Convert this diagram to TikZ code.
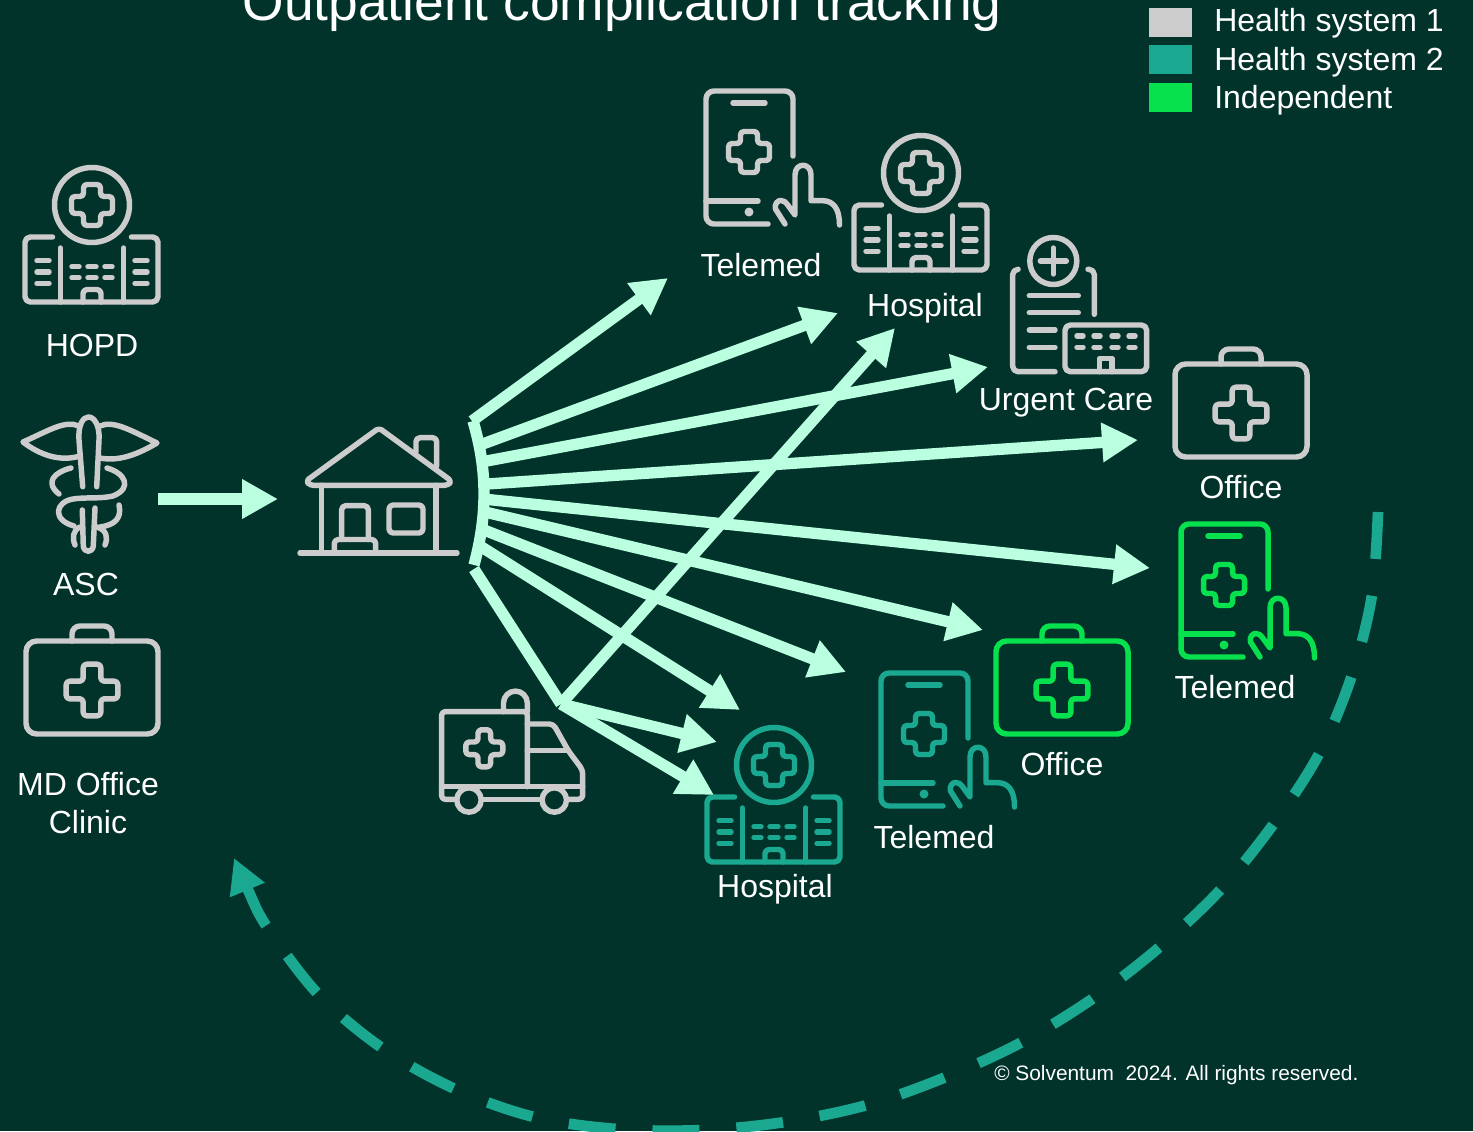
\documentclass[tikz,border=0pt]{standalone}
\usepackage{fontspec}
\setmainfont{Liberation Sans}
\usetikzlibrary{arrows.meta}
\definecolor{bgc}{HTML}{01332B}
\definecolor{gry}{HTML}{CCCCCC}
\definecolor{tealc}{HTML}{1AA890}
\definecolor{grn}{HTML}{06E14D}
\definecolor{mint}{HTML}{B9FFE0}
\newcommand{\medcross}[4]{%
  \draw[iconline,rounded corners=2.6pt] (#1,{#2-#3}) -- ({#1+#4},{#2-#3}) -- ({#1+#4},{#2-#4}) -- ({#1+#3},{#2-#4}) -- ({#1+#3},{#2+#4}) -- ({#1+#4},{#2+#4}) -- ({#1+#4},{#2+#3}) -- ({#1-#4},{#2+#3}) -- ({#1-#4},{#2+#4}) -- ({#1-#3},{#2+#4}) -- ({#1-#3},{#2-#4}) -- ({#1-#4},{#2-#4}) -- ({#1-#4},{#2-#3}) -- cycle;}
\tikzset{
  iconline/.style={line width=4.1pt,line cap=round,line join=round},
  lbl/.style={text=white,font=\fontsize{24}{28.5}\selectfont,anchor=base,inner sep=0pt,align=center},
  flow/.style={draw=mint,line width=8.5pt,-{Triangle[length=27pt,width=28pt]}},
  flowplain/.style={draw=mint,line width=8.5pt},
  swatch/.style={draw=none,minimum width=32.25pt,minimum height=21.75pt,inner sep=0pt,anchor=north west},
  hospitalicon/.pic={
    \draw[iconline] (0,39) circle[radius=37.5];
    \medcross{0}{39}{20.5}{8.5}
    \draw[iconline,rounded corners=4pt] (-39.5,71) -- (-67,71) -- (-67,136) -- (66,136) -- (66,71) -- (39.5,71);
    \draw[iconline] (-31.7,82) -- (-31.7,136) (31.7,82) -- (31.7,136);
    \foreach \yy in {94.7,106,117.3}{\draw[iconline] (-55,\yy) -- (-43,\yy) (43,\yy) -- (55,\yy);}
    \foreach \yy in {100.7,111.7}{\draw[iconline] (-20,\yy) -- (-13,\yy) (-4,\yy) -- (4,\yy) (13,\yy) -- (20,\yy);}
    \draw[iconline,rounded corners=3pt] (-9,136) -- (-9,123.5) -- (9,123.5) -- (9,136);
  },
  phoneicon/.pic={
    \draw[iconline,rounded corners=6pt] (90,68) -- (90,3) -- (3,3) -- (3,136) -- (65,136);
    \draw[iconline] (30,15) -- (62,15) (3,113) -- (55,113);
    \fill (46,124) circle[radius=4.5];
    \medcross{46}{64}{20.5}{8.5}
    \draw[iconline] (82,136) -- (72.5,121) .. controls (71,116) and (75,112) .. (78,112.5) .. controls (81,113) and (83,114) .. (84,116) -- (92,127) -- (92,87) .. controls (92,74) and (108,74) .. (108,87) -- (108,112.7) -- (120,112.7) .. controls (130,113) and (136.5,120) .. (136.5,137);
  },
  kiticon/.pic={
    \draw[iconline,rounded corners=8pt] (-66,19) rectangle (66,112);
    \draw[iconline,rounded corners=6pt] (-20,19) -- (-20,4) -- (20,4) -- (20,19);
    \medcross{0}{68}{25.8}{8.8}
  }
}
\begin{document}
\begin{tikzpicture}[x=0.75pt,y=-0.75pt]
\useasboundingbox (0,0) rectangle (1473,1131);
\fill[bgc] (0,0) rectangle (1473,1131);
\clip (0,0) rectangle (1473,1131);

% title and legend
\node[text=white,font=\fontsize{40}{48}\selectfont,anchor=base,inner sep=0pt] (title) at (622,21) {Outpatient complication tracking};
\node[swatch,fill=gry] (sw1) at (1149,8) {};
\node[swatch,fill=tealc] (sw2) at (1149,45) {};
\node[swatch,fill=grn] (sw3) at (1149,83) {};
\node[lbl,anchor=base west] (lg1) at (1214,32) {Health system 1};
\node[lbl,anchor=base west] (lg2) at (1214,70.5) {Health system 2};
\node[lbl,anchor=base west] (lg3) at (1214,108.5) {Independent};

% left column
\pic[color=gry] (hopd) at (92,166) {hospitalicon};
\node[lbl] (hopdL) at (92,356) {HOPD};
\begin{scope}[color=gry]
\draw[iconline] (82.7,486.7) -- (79,440) .. controls (78,425) and (83,417) .. (88.5,417) .. controls (94,417) and (100,425) .. (99,440) -- (96.7,486.7);
\draw[iconline] (79,426) .. controls (65,420) and (50,430) .. (23,442) .. controls (40,455) and (60,462) .. (80,456);
\draw[iconline] (100,426) .. controls (113,420) and (130,430) .. (157,443) .. controls (140,453) and (120,462) .. (100,458);
\draw[iconline] (71,468) .. controls (55,472) and (44,482) .. (59,494);
\draw[iconline] (107,468) .. controls (125,473) and (133,488) .. (113,496) .. controls (100,499) and (85,497) .. (73,499) .. controls (55,502) and (52,520) .. (74,526);
\draw[iconline] (119,505) .. controls (122,518) and (115,525) .. (100,527);
\draw[iconline] (82.3,510) -- (83.3,546) .. controls (84,553) and (92.5,553) .. (93.3,546) -- (95,508);
\draw[iconline] (75,545) .. controls (72,538) and (73,530) .. (80,527);
\draw[iconline] (105,545) .. controls (108,538) and (107,530) .. (97,527);
\end{scope}
\node[lbl] (ascL) at (86,595) {ASC};
\pic[color=gry] (md) at (92,622) {kiticon};
\node[lbl] (mdL) at (88,833) {MD Office\\Clinic};

% house
\begin{scope}[color=gry]
\draw[iconline,rounded corners=2.5pt] (310,485.3) -- (306,481) -- (379,428) -- (451.5,481) -- (448,485.3) -- cycle;
\draw[iconline,rounded corners=3pt] (416,451.7) -- (416,437.7) -- (436.7,437.7) -- (436.7,466);
\draw[iconline] (321.7,485.3) -- (321.7,553) (436,485.3) -- (436,553) (300,553) -- (457,553);
\draw[iconline,rounded corners=3pt] (341.7,539.5) -- (341.7,505.7) -- (368.3,505.7) -- (368.3,539.5);
\draw[iconline,rounded corners=3pt] (334.3,553) -- (334.3,539.5) -- (375.7,539.5) -- (375.7,553);
\draw[iconline,rounded corners=3pt] (389,505) rectangle (423,533);
\end{scope}

% ambulance
\begin{scope}[color=gry]
\draw[iconline,rounded corners=2.5pt] (527.3,786.7) -- (527.3,711.7) -- (441.7,711.7) -- (441.7,786.7);
\draw[iconline] (441.7,786.7) -- (582.7,786.7);
\draw[iconline] (503.5,711.7) -- (503.5,703) arc[start angle=180,end angle=360,radius=11.9] -- (527.3,711.7);
\draw[iconline,rounded corners=2.5pt] (455,799.3) -- (441.7,799.3) -- (441.7,786.7);
\draw[iconline] (483.3,799.3) -- (541.7,799.3);
\draw[iconline,rounded corners=3pt] (568.3,799.3) -- (582.7,799.3) -- (582.7,770) -- (568.3,750.7) -- (553.3,724) -- (527.3,724);
\draw[iconline] (527.3,750.7) -- (568.3,750.7);
\draw[iconline] (469,800) circle[radius=12.2] (554.3,800) circle[radius=12.2];
\medcross{484.3}{748.3}{18.5}{6.3}
\end{scope}

% destination icons
\pic[color=gry] (tm1) at (703,88) {phoneicon};
\node[lbl] (tm1L) at (761,276) {Telemed};
\pic[color=gry] (hosp1) at (921,134) {hospitalicon};
\node[lbl] (hosp1L) at (925,316) {Hospital};
\begin{scope}[color=gry]
\draw[iconline] (1053.3,261) circle[radius=23.5];
\draw[iconline] (1040.3,261) -- (1066.3,261) (1053.3,248) -- (1053.3,274);
\draw[iconline,rounded corners=4pt] (1018,269.3) -- (1012.7,269.3) -- (1012.7,371.7) -- (1055,371.7);
\draw[iconline,rounded corners=4pt] (1088,269.3) -- (1094.3,269.3) -- (1094.3,314.3);
\draw[iconline] (1029.3,295.7) -- (1078.3,295.7) (1029.3,312.7) -- (1078.3,312.7) (1029.3,330) -- (1055,330) (1029.3,347.3) -- (1055,347.3);
\draw[iconline,rounded corners=4pt] (1065,325) rectangle (1146.7,371.7);
\foreach \yy in {336,347.3}{\draw[iconline] (1077,\yy) -- (1083,\yy) (1094,\yy) -- (1100,\yy) (1112,\yy) -- (1118,\yy) (1129,\yy) -- (1135,\yy);}
\draw[iconline] (1099.5,371.7) -- (1099.5,358.3) -- (1112,358.3) -- (1112,371.7);
\end{scope}
\node[lbl] (ucL) at (1066,410) {Urgent Care};
\pic[color=gry] (of1) at (1241,345) {kiticon};
\node[lbl] (of1L) at (1241,498) {Office};
\pic[color=grn] (tm2) at (1178,521) {phoneicon};
\node[lbl] (tm2L) at (1235,698) {Telemed};
\pic[color=grn] (of2) at (1062,622) {kiticon};
\node[lbl] (of2L) at (1062,775) {Office};
\pic[color=tealc] (tm3) at (878,670) {phoneicon};
\node[lbl] (tm3L) at (934,848) {Telemed};
\pic[color=tealc] (hosp2) at (774,726) {hospitalicon};
\node[lbl] (hosp2L) at (775,897) {Hospital};

% connectors
\coordinate (ascOut) at (158,499);
\coordinate (homeIn) at (278,499);
\draw[flow] (ascOut) -- (homeIn);

\coordinate (fanTop) at (473,421);
\coordinate (fanBot) at (474,565);
\coordinate (s1) at (472,421);
\coordinate (e1) at (668,278);
\coordinate (s2) at (480,445);
\coordinate (e2) at (838,313);
\coordinate (s3) at (484,461.5);
\coordinate (e3) at (988,367);
\coordinate (s4) at (487,484);
\coordinate (e4) at (1138,440);
\coordinate (s5) at (488,499.5);
\coordinate (e5) at (1150,568);
\coordinate (s6) at (487,512.5);
\coordinate (e6) at (983,630);
\coordinate (s7) at (484,530);
\coordinate (e7) at (846,672);
\coordinate (s8) at (480,546);
\coordinate (e8) at (740,710);
\coordinate (s9) at (474,569);
\coordinate (ambHub) at (561,704);
\coordinate (e9) at (895,328);
\coordinate (e10) at (717,742);
\coordinate (e11) at (714,795);

\draw[flowplain] (fanTop) .. controls (487.5,470) and (487.5,515) .. (fanBot);
\draw[flow] (s1) -- (e1);
\draw[flow] (s2) -- (e2);
\draw[flow] (s3) -- (e3);
\draw[flow] (s4) -- (e4);
\draw[flow] (s5) -- (e5);
\draw[flow] (s6) -- (e6);
\draw[flow] (s7) -- (e7);
\draw[flow] (s8) -- (e8);
\draw[flowplain] (s9) -- (ambHub);
\draw[flow] (ambHub) -- (e9);
\draw[flow] (ambHub) -- (e10);
\draw[flow] (ambHub) -- (e11);

% return loop
\draw[tealc,line width=8pt,dash pattern=on 35.25pt off 27.75pt,-{Triangle[length=26pt,width=26.5pt]}]
  plot[smooth,tension=0.55] coordinates {(1378,512) (1372,595) (1352,675) (1320,752) (1275,822) (1222,888) (1162,945) (1095,997) (1022,1042) (946,1077) (867,1105) (785,1122) (703,1130) (617,1129) (534,1117) (455,1089) (382,1048) (318,994) (267,927) (248,890) (234,858)};

\node[text=white,font=\fontsize{15.65}{19}\selectfont,anchor=base west,inner sep=0pt] (copy) at (994,1080) {© Solventum\ \ 2024. All rights reserved.};
\end{tikzpicture}
\end{document}
